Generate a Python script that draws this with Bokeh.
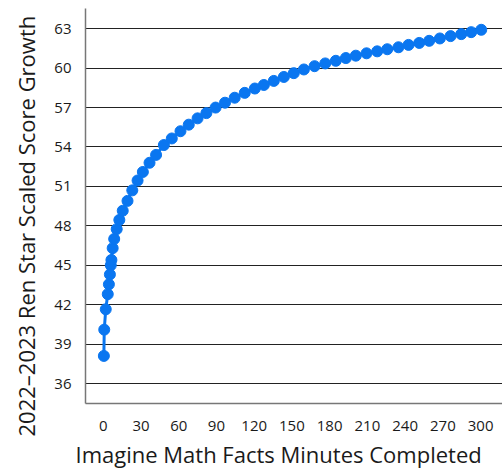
from bokeh.plotting import figure
from bokeh.models import Range1d, FixedTicker, Title
from bokeh.embed import file_html
from bokeh.resources import INLINE

# Data
minutes = [0.5, 0.8, 2.0, 3.6, 4.5, 5.3, 6.0, 6.5, 7.5, 8.7,
           10.7, 12.8, 15.5, 19.3, 23.1, 27.3, 31.5, 36.8, 42.0, 48.2,
           54.5, 61.4, 68.0, 75.0, 82.0, 89.3, 96.8, 104.5, 112.5, 120.5,
           127.7, 135.6, 143.6, 151.5, 159.5, 168.0, 176.5, 184.9, 192.9, 200.8,
           209.3, 217.8, 225.8, 234.7, 242.7, 251.2, 259.1, 267.6, 276.1, 284.6,
           292.5, 300.5]
growth = [38.1, 40.1, 41.65, 42.8, 43.55, 44.3, 45.0, 45.4, 46.3, 47.0,
          47.75, 48.45, 49.15, 49.9, 50.7, 51.45, 52.1, 52.8, 53.4, 54.15,
          54.65, 55.2, 55.7, 56.18, 56.58, 57.0, 57.37, 57.75, 58.12, 58.45,
          58.72, 59.03, 59.33, 59.62, 59.9, 60.15, 60.36, 60.56, 60.77, 60.95,
          61.13, 61.28, 61.44, 61.59, 61.77, 61.92, 62.08, 62.26, 62.44, 62.59,
          62.74, 62.92]
x_ticks = [0, 30, 60, 90, 120, 150, 180, 210, 240, 270, 300]
y_ticks = [36, 39, 42, 45, 48, 51, 54, 57, 60, 63]
x_title = "Imagine Math Facts Minutes Completed"
y_title = "2022\u20132023 Ren Star Scaled Score Growth"

BLUE = "#0a76f0"
FONT = "Open Sans"
TEXT = "#1a1a1a"

p = figure(width=502, height=474, output_backend="svg", toolbar_location=None,
           x_range=Range1d(-14.1, 317.4), y_range=Range1d(34.48, 64.54),
           min_border_left=85, min_border_right=0, min_border_top=8,
           min_border_bottom=71)
p.outline_line_color = None
p.background_fill_color = "white"

p.line(minutes, growth, line_width=3, line_color=BLUE)
p.scatter(minutes, growth, size=11, fill_color=BLUE, line_color=BLUE)

p.xaxis.ticker = FixedTicker(ticks=x_ticks)
p.yaxis.ticker = FixedTicker(ticks=y_ticks)
p.xgrid.visible = False
p.ygrid.grid_line_color = "#222222"
p.ygrid.grid_line_width = 1

for ax in (p.xaxis, p.yaxis):
    ax.major_tick_out = 0
    ax.major_tick_in = 0
    ax.minor_tick_out = 0
    ax.minor_tick_in = 0
    ax.axis_line_color = "#777777"
    ax.axis_line_width = 1.5
    ax.major_label_text_font = FONT
    ax.major_label_text_font_size = "15px"
    ax.major_label_text_color = TEXT

p.xaxis.major_label_standoff = 17
p.yaxis.major_label_standoff = 14

p.add_layout(Title(text=x_title, align="left", offset=-10, standoff=6,
                   vertical_align="bottom",
                   text_font=FONT, text_font_size="22px",
                   text_font_style="normal", text_color=TEXT), "below")
p.add_layout(Title(text=y_title, align="left", offset=-33, standoff=17,
                   vertical_align="top",
                   text_font=FONT, text_font_size="22px",
                   text_font_style="normal", text_color=TEXT), "left")

open("out.html", "w").write(file_html(p, INLINE))
